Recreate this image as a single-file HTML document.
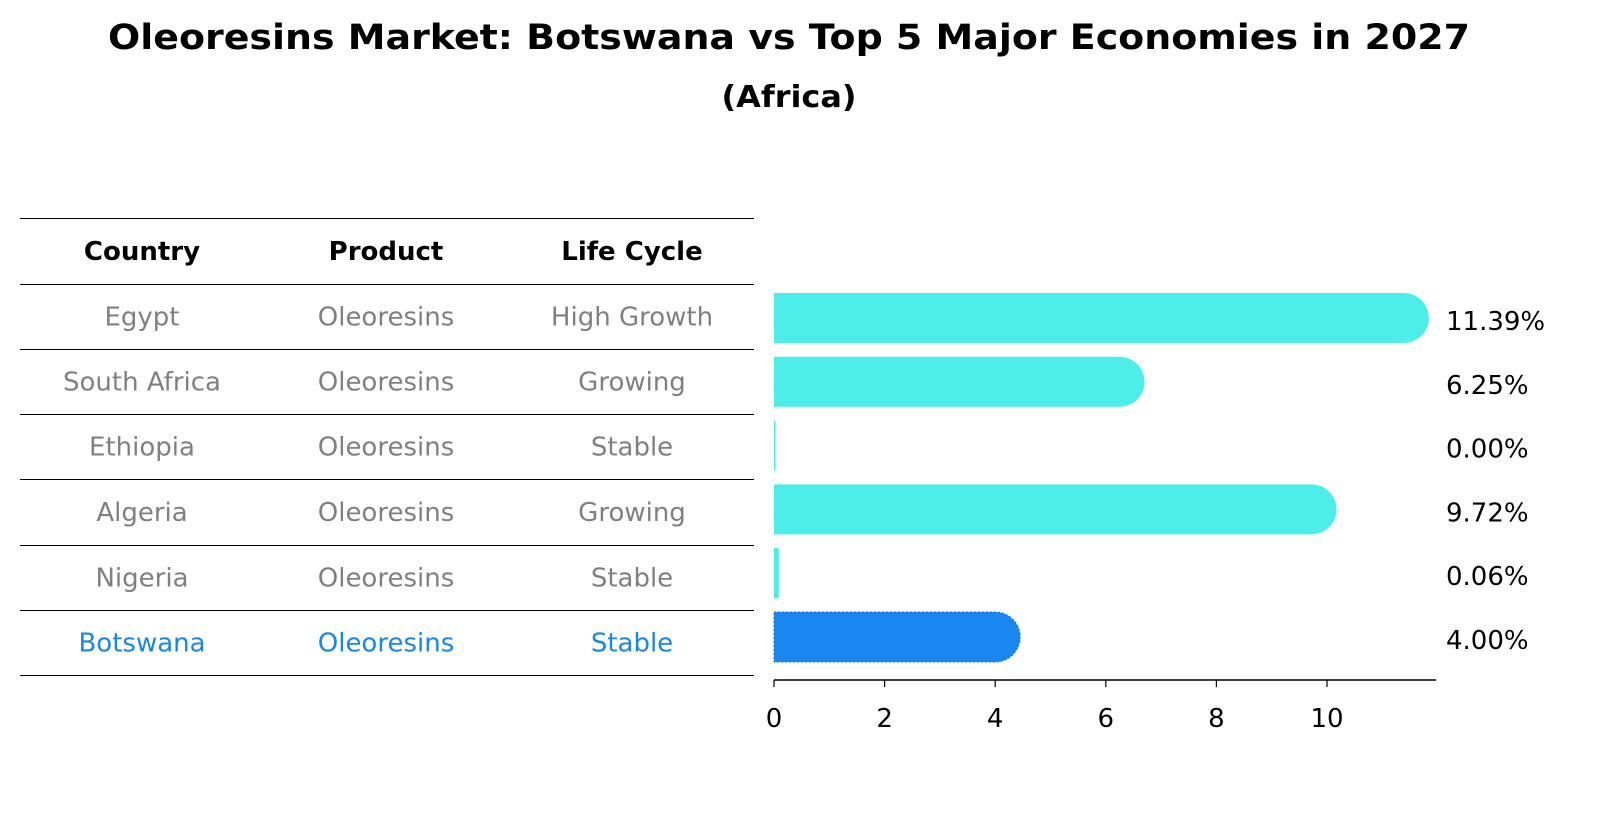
<!DOCTYPE html>
<html><head><meta charset="utf-8"><style>
body{margin:0;background:#fff}
svg{display:block;font-family:"DejaVu Sans","Liberation Sans",sans-serif}
</style></head><body>
<svg id="chart" width="1604" height="823" viewBox="0 0 1604 823">
<text x="789" y="49" text-anchor="middle" font-size="35" font-weight="bold" textLength="1362" lengthAdjust="spacingAndGlyphs">Oleoresins Market: Botswana vs Top 5 Major Economies in 2027</text>
<text x="789" y="107" text-anchor="middle" font-size="30" font-weight="bold" textLength="135" lengthAdjust="spacingAndGlyphs">(Africa)</text>
<g id="table"></g>
<g id="bars"></g>
</svg>
<script>
const countries=["Egypt","South Africa","Ethiopia","Algeria","Nigeria","Botswana"];
const products=["Oleoresins","Oleoresins","Oleoresins","Oleoresins","Oleoresins","Oleoresins"];
const lifecycles=["High Growth","Growing","Stable","Growing","Stable","Stable"];
const values=[11.39,6.25,0.00,9.72,0.06,4.00];
const valueLabels=["11.39%","6.25%","0.00%","9.72%","0.06%","4.00%"];
const xTicks=[0,2,4,6,8,10];
const highlight="Botswana";

const NS="http://www.w3.org/2000/svg";
function mk(tag,attrs,parent){const e=document.createElementNS(NS,tag);for(const k in attrs)e.setAttribute(k,attrs[k]);parent.appendChild(e);return e;}
const x0=774,pxPerUnit=55.3;
const xs=v=>x0+v*pxPerUnit;
const rowY=i=>318+i*63.8;
const barH=50,cap=25;
const FS=26;

// table
const tbl=document.getElementById('table');
const lineYs=[218,284];
for(let i=0;i<countries.length;i++)lineYs.push(Math.round(349+i*65.2));
lineYs.forEach(y=>{const l=mk('line',{x1:20,x2:754,y1:y+0.5,y2:y+0.5,stroke:'#000','stroke-width':1},tbl);

});
const colX=[142,386,632];
["Country","Product","Life Cycle"].forEach((h,j)=>{const t=mk('text',{x:colX[j],y:260,'text-anchor':'middle','font-size':FS,'font-weight':'bold'},tbl);t.textContent=h;

});
countries.forEach((c,i)=>{
  const col=c===highlight?'#1a87e0':'#808080';
  const cy=(lineYs[i+1]+lineYs[i+2])/2+9;
  [c,products[i],lifecycles[i]].forEach((v,j)=>{const t=mk('text',{x:colX[j],y:cy,'text-anchor':'middle','font-size':FS,fill:col},tbl);t.textContent=v;
  
  });
});

// bars
const bg=document.getElementById('bars');
values.forEach((v,i)=>{
  const y=rowY(i)-barH/2;
  const w=v*pxPerUnit;
  const isH=countries[i]===highlight;
  const fill=isH?'#1a87f0':'#4deee9';
  let el;
  if(w<cap){
    el=mk('rect',{x:x0,y:y,width:w+1.5,height:barH,fill:fill},bg);
  }else{
    const xe=xs(v);
    el=mk('path',{d:`M${x0},${y} H${xe} A${cap},${cap} 0 0 1 ${xe},${y+barH} H${x0} Z`,fill:fill},bg);
    if(isH){el.setAttribute('stroke','#1570d0');el.setAttribute('stroke-dasharray','2,2');el.setAttribute('stroke-width','1');}
  }
  
  
  const t=mk('text',{x:1446,y:rowY(i)+12,'font-size':FS},bg);t.textContent=valueLabels[i];
  
  
});
const ax=mk('line',{x1:x0,x2:1436,y1:680,y2:680,stroke:'#000','stroke-width':1.5},bg);


xTicks.forEach(v=>{
  const tk=mk('line',{x1:xs(v),x2:xs(v),y1:680,y2:687,stroke:'#000','stroke-width':1.2},bg);
  
  
  const t=mk('text',{x:xs(v),y:727,'text-anchor':'middle','font-size':FS},bg);t.textContent=v;
  
  
});
</script>
</body></html>
